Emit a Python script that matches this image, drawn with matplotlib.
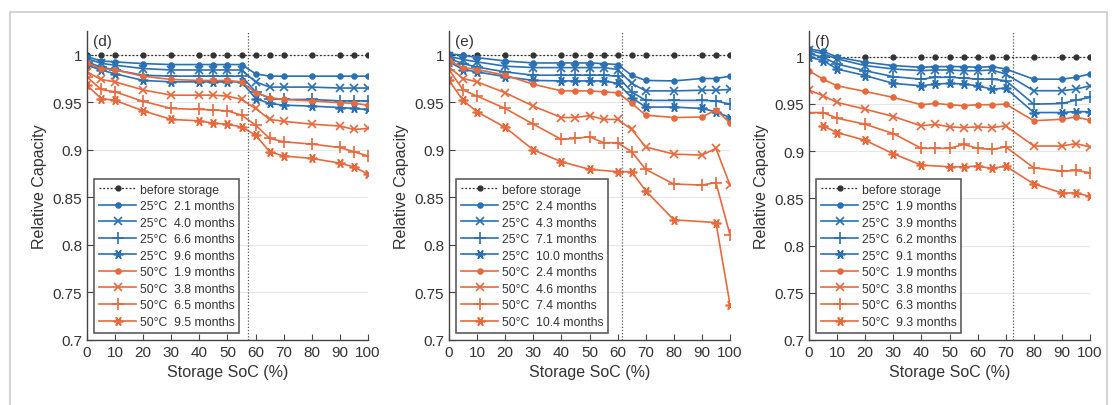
import matplotlib.pyplot as plt
from matplotlib.patches import Rectangle
from matplotlib.ticker import FuncFormatter

plt.rcParams['font.family'] = ['Liberation Sans', 'DejaVu Sans']

# State of charge during storage (%)
soc = [0, 5, 10, 20, 30, 40, 45, 50, 55, 60, 65, 70, 80, 90, 95, 100]
before = [1.0] * len(soc)

# (d)
d_25_21 = [0.998, 0.9935, 0.9925, 0.9907, 0.9897, 0.9897, 0.9897, 0.9897, 0.9897, 0.980, 0.9775, 0.9775, 0.9775, 0.9775, 0.9775, 0.9775]
d_25_40 = [0.996, 0.991, 0.989, 0.9855, 0.984, 0.984, 0.984, 0.984, 0.984, 0.9715, 0.966, 0.966, 0.966, 0.965, 0.965, 0.965]
d_25_66 = [0.9925, 0.987, 0.984, 0.9785, 0.9775, 0.9775, 0.9775, 0.9775, 0.9775, 0.961, 0.954, 0.953, 0.953, 0.9515, 0.9515, 0.9515]
d_25_96 = [0.989, 0.984, 0.980, 0.973, 0.9715, 0.9715, 0.9715, 0.9715, 0.9715, 0.954, 0.9488, 0.947, 0.946, 0.9445, 0.9435, 0.9425]
d_50_19 = [0.991, 0.9855, 0.984, 0.9775, 0.974, 0.973, 0.973, 0.973, 0.9715, 0.960, 0.955, 0.953, 0.9515, 0.9495, 0.949, 0.947]
d_50_38 = [0.982, 0.974, 0.9715, 0.963, 0.9575, 0.9575, 0.9575, 0.9565, 0.953, 0.9435, 0.932, 0.930, 0.927, 0.925, 0.9215, 0.9225]
d_50_65 = [0.9767, 0.9635, 0.961, 0.951, 0.9435, 0.9425, 0.942, 0.941, 0.9365, 0.926, 0.912, 0.9085, 0.906, 0.9025, 0.898, 0.8935]
d_50_95 = [0.968, 0.954, 0.952, 0.941, 0.932, 0.9305, 0.928, 0.927, 0.924, 0.9155, 0.898, 0.8935, 0.891, 0.886, 0.882, 0.8745]
d_labels = ['2.1', '4.0', '6.6', '9.6', '1.9', '3.8', '6.5', '9.5']

# (e)
e_25_24 = [1.001, 0.9995, 0.997, 0.9935, 0.9914, 0.9914, 0.9914, 0.9914, 0.9907, 0.9897, 0.9785, 0.973, 0.9725, 0.975, 0.975, 0.9775]
e_25_43 = [0.9985, 0.995, 0.9925, 0.988, 0.9865, 0.9865, 0.9865, 0.9865, 0.9865, 0.9845, 0.970, 0.962, 0.962, 0.9627, 0.9627, 0.9635]
e_25_71 = [0.996, 0.9907, 0.987, 0.982, 0.9785, 0.9785, 0.9785, 0.9785, 0.9785, 0.9775, 0.961, 0.952, 0.952, 0.952, 0.9515, 0.948]
e_25_100 = [0.9925, 0.9845, 0.982, 0.977, 0.973, 0.9725, 0.9725, 0.9725, 0.9725, 0.970, 0.955, 0.945, 0.945, 0.9435, 0.940, 0.934]
e_50_24 = [0.994, 0.9865, 0.9845, 0.9785, 0.969, 0.962, 0.962, 0.962, 0.961, 0.960, 0.949, 0.9365, 0.934, 0.9345, 0.942, 0.9285]
e_50_46 = [0.987, 0.975, 0.9715, 0.960, 0.946, 0.934, 0.934, 0.936, 0.932, 0.932, 0.9215, 0.903, 0.8955, 0.8945, 0.9015, 0.863]
e_50_74 = [0.9845, 0.963, 0.9565, 0.9435, 0.927, 0.911, 0.912, 0.9138, 0.9075, 0.9075, 0.898, 0.8795, 0.864, 0.863, 0.8655, 0.8106]
soc_e_104 = [0, 5, 10, 20, 30, 40, 50, 60, 65, 70, 80, 95, 100]
e_50_104 = [0.973, 0.952, 0.940, 0.9236, 0.900, 0.8875, 0.8795, 0.877, 0.877, 0.857, 0.8264, 0.8235, 0.7372]
e_labels = ['2.4', '4.3', '7.1', '10.0', '2.4', '4.6', '7.4', '10.4']

# (f)
f_25_19 = [1.008, 1.0056, 0.9993, 0.994, 0.9904, 0.9886, 0.9893, 0.9893, 0.9893, 0.9886, 0.9893, 0.9868, 0.976, 0.976, 0.978, 0.9815]
f_25_39 = [1.0064, 1.003, 0.9975, 0.9904, 0.9868, 0.985, 0.9857, 0.9857, 0.985, 0.985, 0.9857, 0.9815, 0.9638, 0.9638, 0.9655, 0.969]
f_25_62 = [1.003, 0.9993, 0.992, 0.985, 0.9787, 0.976, 0.978, 0.978, 0.9773, 0.976, 0.976, 0.9745, 0.9496, 0.9503, 0.9538, 0.9567]
f_25_91 = [0.9993, 0.9957, 0.9868, 0.9798, 0.9716, 0.969, 0.9709, 0.9716, 0.9709, 0.969, 0.9655, 0.9666, 0.9407, 0.9407, 0.9418, 0.9415]
f_50_19 = [0.985, 0.976, 0.969, 0.963, 0.9567, 0.949, 0.9503, 0.949, 0.9479, 0.949, 0.949, 0.9496, 0.932, 0.9336, 0.936, 0.9326]
f_50_38 = [0.9645, 0.9585, 0.9514, 0.9443, 0.9365, 0.9266, 0.9283, 0.9255, 0.9248, 0.9255, 0.9248, 0.9266, 0.9053, 0.9053, 0.9078, 0.9043]
f_50_63 = [0.9407, 0.9407, 0.9347, 0.9283, 0.9184, 0.9028, 0.9028, 0.9028, 0.907, 0.9028, 0.9017, 0.9043, 0.8822, 0.8787, 0.8794, 0.877]
soc_f_93 = [5, 10, 20, 30, 40, 50, 55, 60, 65, 70, 80, 90, 95, 100]
f_50_93 = [0.9266, 0.9195, 0.9113, 0.8971, 0.8851, 0.8833, 0.8833, 0.884, 0.8815, 0.884, 0.8652, 0.8556, 0.8556, 0.852]
f_labels = ['1.9', '3.9', '6.2', '9.1', '1.9', '3.8', '6.3', '9.3']

blue = '#2a70b4'
orange = '#e8693c'
text_col = '#333333'
# matlab style markers: dot, x, plus, asterisk
markers = ['.', 'x', '+', (6, 2, 90)]
msizes = [7, 6, 8, 7]

panels = [
    ('(d)', 57.3, 1.025,
     [(soc, d_25_21), (soc, d_25_40), (soc, d_25_66), (soc, d_25_96),
      (soc, d_50_19), (soc, d_50_38), (soc, d_50_65), (soc, d_50_95)], d_labels),
    ('(e)', 61.7, 1.025,
     [(soc, e_25_24), (soc, e_25_43), (soc, e_25_71), (soc, e_25_100),
      (soc, e_50_24), (soc, e_50_46), (soc, e_50_74), (soc_e_104, e_50_104)], e_labels),
    ('(f)', 72.6, 1.027,
     [(soc, f_25_19), (soc, f_25_39), (soc, f_25_62), (soc, f_25_91),
      (soc, f_50_19), (soc, f_50_38), (soc, f_50_63), (soc_f_93, f_50_93)], f_labels),
]

fig = plt.figure(figsize=(11.14, 4.06), dpi=100)
fig.patches.append(Rectangle((0.009, -0.02), 0.985, 0.988, transform=fig.transFigure,
                             fill=False, edgecolor='#d4d4d4', linewidth=1.5))

lefts = [87 / 1114, 449 / 1114, 809 / 1114]
for left, (tag, vline, ytop, series, labels) in zip(lefts, panels):
    ax = fig.add_axes([left, 1 - 341 / 406, 281 / 1114, (341 - 32) / 406])
    ax.plot(soc, before, linestyle=(0, (1.5, 1.5)), color='#333333', marker='.',
            markersize=7, linewidth=0.9, label='before storage')
    for i, (x, y) in enumerate(series):
        col = blue if i < 4 else orange
        temp = '25°C' if i < 4 else '50°C'
        ax.plot(x, y, color=col, marker=markers[i % 4], markersize=msizes[i % 4],
                markeredgewidth=1.2, linewidth=1.2,
                label=temp + '  ' + labels[i] + ' months')
    ax.axvline(vline, color='#555555', linestyle=(0, (1, 1.5)), linewidth=0.9)
    ax.set_xlim(0, 100)
    ax.set_ylim(0.7, ytop)
    ax.set_xticks(range(0, 101, 10))
    ax.set_yticks([0.7, 0.75, 0.8, 0.85, 0.9, 0.95, 1.0])
    ax.yaxis.set_major_formatter(FuncFormatter(lambda v, p: '%g' % round(v, 2)))
    ax.grid(axis='y', color='#e6e6e6', linewidth=0.8)
    ax.set_axisbelow(True)
    for s in ['top', 'right']:
        ax.spines[s].set_visible(False)
    for s in ['left', 'bottom']:
        ax.spines[s].set_color('#444444')
        ax.spines[s].set_linewidth(1.0)
    ax.tick_params(direction='in', length=4, colors='#444444', labelcolor=text_col,
                   labelsize=11)
    ax.set_xlabel('Storage SoC (%)', fontsize=11.5, color=text_col)
    ax.set_ylabel('Relative Capacity', fontsize=11.5, color=text_col)
    ax.text(0.02, 0.99, tag, transform=ax.transAxes, ha='left', va='top',
            fontsize=11, color=text_col)
    leg = ax.legend(loc='lower left', fontsize=8.8, frameon=True, fancybox=False,
                    edgecolor='#333333', handlelength=3.0, handletextpad=0.3,
                    labelspacing=0.37, borderaxespad=0.6, borderpad=0.4)
    leg.get_frame().set_linewidth(1.2)
    for t in leg.get_texts():
        t.set_color(text_col)

plt.savefig('out.png', dpi=100)
